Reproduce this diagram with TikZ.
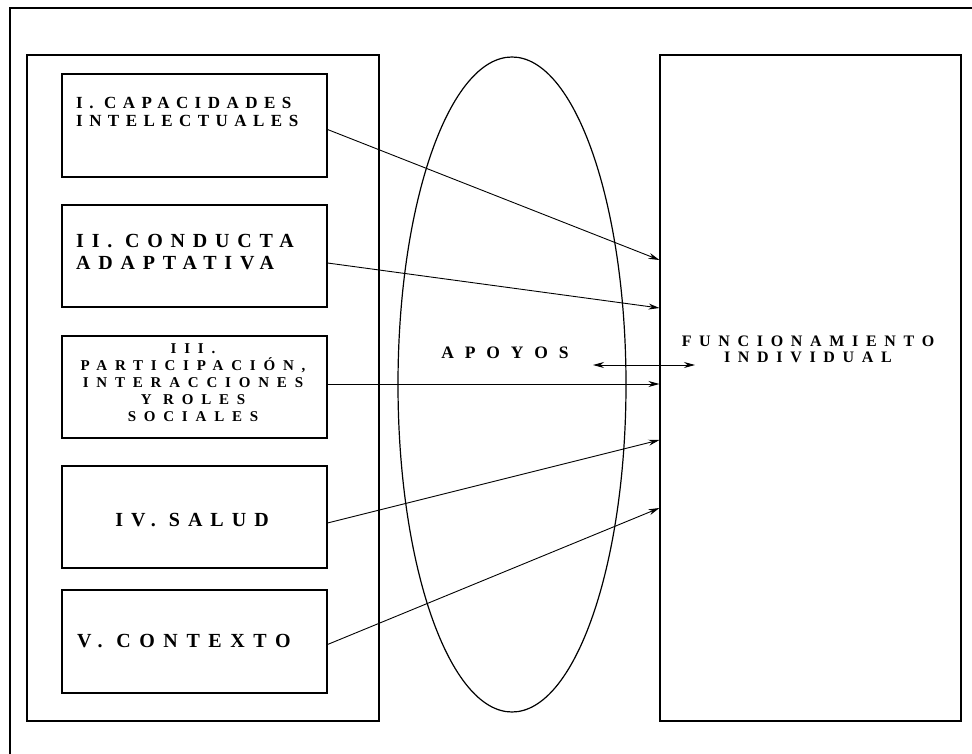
\documentclass[tikz,border=0pt]{standalone}
\usepackage{fontspec}
\setmainfont{Liberation Serif}
\usetikzlibrary{shapes.geometric,arrows.meta}
\newcommand{\lsfont}[3]{\bfseries\fontsize{#1}{#2}\selectfont\addfontfeatures{LetterSpace=#3}}
\tikzset{
  frame/.style={draw, line width=1.1pt, inner sep=0pt},
  lbl/.style={inner sep=0pt},
  conn/.style={line width=0.9pt, -{Stealth[length=11pt,width=6pt]}},
}
\begin{document}
\begin{tikzpicture}[x=1pt,y=1pt]
\useasboundingbox (0,0) rectangle (972,-754);
% outer frame
\draw[line width=1.1pt] (10,-754) -- (10,-8) -- (972,-8);
% containers
\node[frame, minimum width=352pt, minimum height=666pt] (L) at (203,-388) {};
\node[frame, minimum width=301pt, minimum height=666pt] (R) at (810.5,-388) {};
\node[frame, ellipse, line width=1.2pt, minimum width=228pt, minimum height=655pt] (E) at (512,-384.5) {};
% boxes
\node[frame, minimum width=265pt, minimum height=103pt] (b1) at (194.5,-125.5) {};
\node[frame, minimum width=265pt, minimum height=102pt] (b2) at (194.5,-256) {};
\node[frame, minimum width=265pt, minimum height=102pt] (b3) at (194.5,-387) {};
\node[frame, minimum width=265pt, minimum height=102pt] (b4) at (194.5,-517) {};
\node[frame, minimum width=265pt, minimum height=103pt] (b5) at (194.5,-641.5) {};
% texts
\node[lbl, anchor=west, align=left, font=\lsfont{17}{18}{38}] (t1) at (76,-111.5) {I. CAPACIDADES\\INTELECTUALES};
\node[lbl, anchor=west, align=left, font=\lsfont{20}{22}{39}] (t2) at (76,-252) {II. CONDUCTA\\ADAPTATIVA};
\node[lbl, align=center, font=\lsfont{15}{17}{52}] (t3) at (193,-383) {III.\\PARTICIPACIÓN,\\INTERACCIONES\\Y ROLES\\SOCIALES};
\node[lbl, font=\lsfont{20}{20}{40}] (t4) at (192,-520) {IV. SALUD};
\node[lbl, anchor=west, font=\lsfont{20}{20}{43}] (t5) at (77,-641.5) {V. CONTEXTO};
\node[lbl, font=\lsfont{17.5}{18}{62}] (ap) at (505,-352.5) {APOYOS};
\node[lbl, align=center, font=\lsfont{16}{16}{48}] (fi) at (808,-349.5) {FUNCIONAMIENTO\\INDIVIDUAL};
% connectors
\draw[conn] ([yshift=-4pt]b1.east) -- ([yshift=128pt]R.west);
\draw[conn] ([yshift=-7pt]b2.east) -- ([yshift=80pt]R.west);
\draw[conn] ([yshift=3pt]b3.east) -- ([yshift=4pt]R.west);
\draw[conn] ([yshift=-6pt]b4.east) -- ([yshift=-52pt]R.west);
\draw[conn] ([yshift=-3pt]b5.east) -- ([yshift=-120pt]R.west);
\coordinate (d1) at (593,-365);
\coordinate (d2) at (695,-365);
\draw[conn, {Stealth[length=11pt,width=6pt]}-{Stealth[length=11pt,width=6pt]}] (d1) -- (d2);
\end{tikzpicture}
\end{document}
